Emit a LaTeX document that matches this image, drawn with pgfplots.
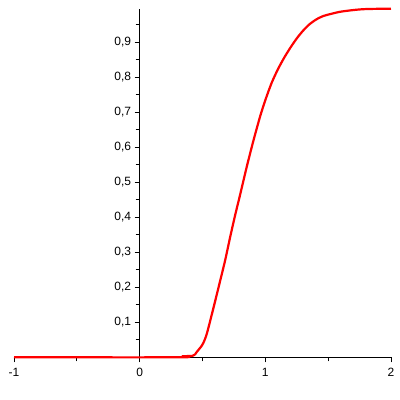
\documentclass[border=0pt]{standalone}
\usepackage{fontspec}
\setmainfont{Liberation Sans}
\usepackage{pgfplots}
\pgfplotsset{compat=1.18}
\begin{document}
\begin{tikzpicture}
\useasboundingbox (0,0) rectangle (400pt,400pt);
\begin{axis}[
  at={(14pt,42.7pt)}, anchor=south west,
  scale only axis, width=377pt, height=348.3pt,
  xmin=-1, xmax=2, ymin=0, ymax=0.994,
  axis lines=middle,
  hide obscured x ticks=false,
  axis line style={-, line width=0.8pt, black},
  tick align=outside,
  major tick length=5pt, minor tick length=4pt,
  every tick/.style={black, line width=0.8pt},
  xtick={-1,0,1,2}, minor xtick={-0.5,0.5,1.5},
  ytick={0.1,0.2,0.3,0.4,0.5,0.6,0.7,0.8,0.9},
  minor ytick={0.05,0.15,0.25,0.35,0.45,0.55,0.65,0.75,0.85,0.95},
  tick label style={font=\fontsize{12}{14}\selectfont, black},
  xticklabel style={yshift=-2pt},
  /pgf/number format/.cd, use comma, fixed, precision=1, assume math mode=true,
  /pgfplots/.cd,
  clip=false,
]
\addplot[red, line width=2.2pt, line join=round, smooth, tension=0.4] coordinates {
(-1,0) (0.33,0) (0.34,0.003) (0.42,0.004) (0.44,0.008) (0.456,0.016)
(0.488,0.030) (0.508,0.042) (0.535,0.068) (0.588,0.142) (0.641,0.219)
(0.681,0.278) (0.720,0.343) (0.760,0.406) (0.800,0.465) (0.853,0.545)
(0.905,0.618) (0.959,0.688) (1.000,0.734) (1.050,0.783) (1.100,0.822)
(1.150,0.855) (1.200,0.884) (1.250,0.910) (1.300,0.932) (1.350,0.950)
(1.400,0.963) (1.461,0.974) (1.594,0.986) (1.727,0.992) (1.817,0.994) (2.0,0.995)
};
\end{axis}
\end{tikzpicture}
\end{document}
